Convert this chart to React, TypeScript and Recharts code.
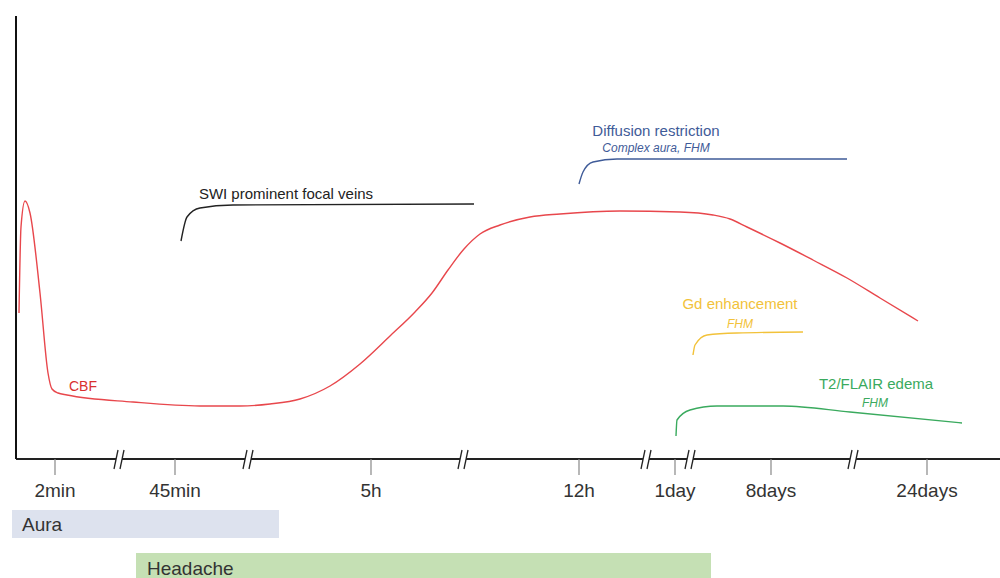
import { LineChart, Line, XAxis, YAxis, ReferenceArea, ReferenceDot } from 'recharts'

// positions along the broken timeline (0 = y axis), level = height above the x axis
const tickPositions = [39, 159, 355, 563, 659, 755, 911]
const tickLabels = ['2min', '45min', '5h', '12h', '1day', '8days', '24days']
const axisBreaks = [105, 234, 449, 632, 676, 839]

const cbfX = [3, 5, 9, 14, 24, 32, 36, 42, 51, 117, 184, 224, 254, 284, 314, 344, 374, 399, 416, 432, 448, 464, 484, 514, 544, 604, 664, 697, 714, 731, 764, 797, 831, 864, 902]
const cbfLevel = [146, 232, 258, 246, 166, 86, 70, 66, 64, 57, 53, 53, 55, 60, 73, 95, 123, 147, 166, 189, 210, 225, 234, 242, 245, 248, 247, 244, 240, 232, 216, 199, 181, 161, 138]

const swiX = [165, 171, 184, 217, 458]
const swiLevel = [218, 242, 251, 254, 255]

const dwiX = [563, 567, 577, 601, 831]
const dwiLevel = [275, 287, 297, 300, 300]

const gdX = [677, 679, 691, 721, 787]
const gdLevel = [104, 114, 124, 126, 127]

const t2X = [660, 661, 674, 701, 767, 834, 946]
const t2Level = [23, 39, 49, 53, 53, 47, 36]

const zip = (xs: number[], ys: number[]) => xs.map((x, i) => ({ x, y: ys[i] }))

const cbf = zip(cbfX, cbfLevel)
const swi = zip(swiX, swiLevel)
const dwi = zip(dwiX, dwiLevel)
const gd = zip(gdX, gdLevel)
const t2 = zip(t2X, t2Level)

const RED = '#e8474c'
const BLUE = '#3f5b98'
const YELLOW = '#f2c23a'
const GREEN = '#3aaa5e'

function BreakMark({ cx, cy }: { cx?: number; cy?: number }) {
  if (cx == null || cy == null) return null
  return (
    <g>
      <rect x={cx - 5} y={cy - 3} width={6} height={6} fill="#fff" />
      <line x1={cx - 7} y1={cy + 10} x2={cx - 3} y2={cy - 9} stroke="#222" strokeWidth={1.3} />
      <line x1={cx - 1} y1={cy + 10} x2={cx + 3} y2={cy - 9} stroke="#222" strokeWidth={1.3} />
    </g>
  )
}

function textMark(value: string, fill: string, fontSize: number, italic = false) {
  return ({ cx, cy }: { cx?: number; cy?: number }) => (
    <text
      x={cx}
      y={cy}
      fill={fill}
      fontSize={fontSize}
      fontStyle={italic ? 'italic' : 'normal'}
      textAnchor="middle"
      dominantBaseline="central"
    >
      {value}
    </text>
  )
}

export default function App() {
  return (
    <div style={{ width: 1000, height: 578, background: '#fff' }}>
      <style>{'body{margin:0}'}</style>
      <LineChart
        width={1000}
        height={578}
        margin={{ top: 16, right: 0, left: 0, bottom: 79 }}
        style={{ fontFamily: '"Liberation Sans", Arial, sans-serif' }}
      >
        <XAxis
          type="number"
          dataKey="x"
          domain={[0, 984]}
          ticks={tickPositions}
          interval={0}
          height={40}
          tickSize={16}
          tickMargin={9}
          tickFormatter={(v) => tickLabels[tickPositions.indexOf(v)] ?? ''}
          axisLine={{ stroke: '#222', strokeWidth: 2 }}
          tickLine={{ stroke: '#888', strokeWidth: 1.2 }}
          tick={{ fill: '#333', fontSize: 19 }}
        />
        <YAxis
          type="number"
          domain={[0, 443]}
          width={16}
          tick={false}
          tickLine={false}
          axisLine={{ stroke: '#111', strokeWidth: 2 }}
        />

        <ReferenceArea x1={-4} x2={263} y1={-79} y2={-51} ifOverflow="visible" fill="#dde2ee" fillOpacity={1} stroke="none"
          label={{ value: 'Aura', position: 'insideLeft', offset: 10, fill: '#333', fontSize: 19 }} />
        <ReferenceArea x1={120} x2={695} y1={-125} y2={-94} ifOverflow="visible" fill="#c5e0b4" fillOpacity={1} stroke="none"
          label={{ value: 'Headache', position: 'insideLeft', offset: 11, fill: '#333', fontSize: 19 }} />

        {axisBreaks.map((b) => (
          <ReferenceDot key={b} x={b} y={0} r={0} ifOverflow="visible" shape={BreakMark} />
        ))}

        <Line data={cbf} dataKey="y" type="monotone" stroke={RED} strokeWidth={1.4} dot={false} activeDot={false} isAnimationActive={false} />
        <Line data={swi} dataKey="y" type="monotone" stroke="#222" strokeWidth={1.4} dot={false} activeDot={false} isAnimationActive={false} />
        <Line data={dwi} dataKey="y" type="monotone" stroke={BLUE} strokeWidth={1.4} dot={false} activeDot={false} isAnimationActive={false} />
        <Line data={gd} dataKey="y" type="monotone" stroke={YELLOW} strokeWidth={1.4} dot={false} activeDot={false} isAnimationActive={false} />
        <Line data={t2} dataKey="y" type="monotone" stroke={GREEN} strokeWidth={1.4} dot={false} activeDot={false} isAnimationActive={false} />

        <ReferenceDot x={67} y={73} r={0} ifOverflow="visible" shape={textMark('CBF', '#d9302f', 14)} />
        <ReferenceDot x={270} y={266} r={0} ifOverflow="visible" shape={textMark('SWI prominent focal veins', '#222', 15)} />
        <ReferenceDot x={640} y={329} r={0} ifOverflow="visible" shape={textMark('Diffusion restriction', BLUE, 15)} />
        <ReferenceDot x={640} y={311} r={0} ifOverflow="visible" shape={textMark('Complex aura, FHM', BLUE, 12, true)} />
        <ReferenceDot x={724} y={156} r={0} ifOverflow="visible" shape={textMark('Gd enhancement', YELLOW, 15)} />
        <ReferenceDot x={724} y={135} r={0} ifOverflow="visible" shape={textMark('FHM', YELLOW, 12, true)} />
        <ReferenceDot x={860} y={76} r={0} ifOverflow="visible" shape={textMark('T2/FLAIR edema', GREEN, 15)} />
        <ReferenceDot x={859} y={56} r={0} ifOverflow="visible" shape={textMark('FHM', GREEN, 12, true)} />
      </LineChart>
    </div>
  )
}
